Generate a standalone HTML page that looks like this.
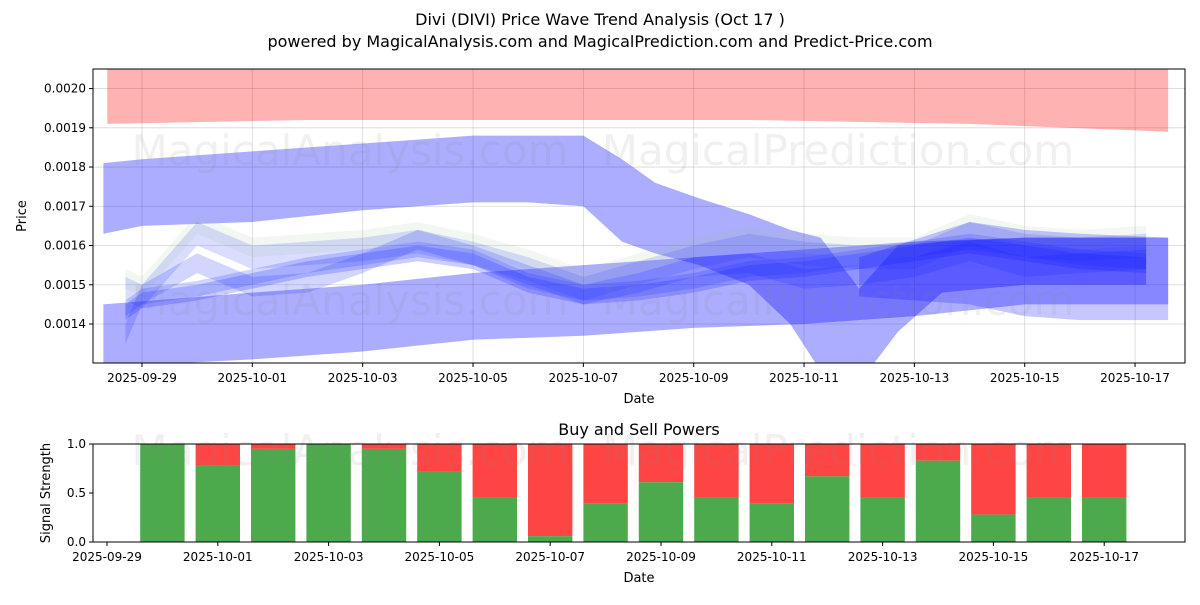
<!DOCTYPE html>
<html><head><meta charset="utf-8"><style>
body{margin:0;background:#fff;font-family:"Liberation Sans","DejaVu Sans",sans-serif}
svg text{font-family:"DejaVu Sans","Liberation Sans",sans-serif}
</style></head><body>
<svg id="c" width="1200" height="600" xmlns="http://www.w3.org/2000/svg">
<text x="600" y="25" text-anchor="middle" font-size="16">Divi (DIVI) Price Wave Trend Analysis (Oct 17 )</text>
<text x="600" y="47" text-anchor="middle" font-size="16">powered by MagicalAnalysis.com and MagicalPrediction.com and Predict-Price.com</text>
<defs><clipPath id="cp1"><rect x="93" y="69" width="1092" height="294"/></clipPath></defs>
<g id="topPanel"></g>
<g id="botPanel"></g>
</svg>
<script>
const ns="http://www.w3.org/2000/svg";
const tickDates=["2025-09-29","2025-10-01","2025-10-03","2025-10-05","2025-10-07","2025-10-09","2025-10-11","2025-10-13","2025-10-15","2025-10-17"];
const tickDays=[0,2,4,6,8,10,12,14,16,18];
const yTicks=[0.0014,0.0015,0.0016,0.0017,0.0018,0.0019,0.0020];
const redDays=[-0.63,3,7,11,15,18.6];
const redLo=[0.00191,0.00192,0.00192,0.00192,0.00191,0.00189];
const redHi=[0.00207,0.00207,0.00207,0.00207,0.00207,0.00207];
const bigDays=[-0.7,0,2,4,6,7,8,8.7,9.3,10.1,11,11.75,12.3,13,13.7,14.5,16,18.2];
const bigHi=[0.00181,0.00182,0.00184,0.00186,0.00188,0.00188,0.00188,0.00182,0.00176,0.00172,0.00168,0.00164,0.00162,0.00149,0.00160,0.00161,0.00162,0.00162];
const bigLo=[0.00163,0.00165,0.00166,0.00169,0.00171,0.00171,0.00170,0.00161,0.00158,0.00155,0.00150,0.00140,0.00128,0.00125,0.00138,0.00148,0.00150,0.00150];
const lowDays=[-0.7,2,4,6,8,10,12,14,16,18.6];
const lowHi=[0.00145,0.00148,0.00150,0.00153,0.00155,0.00157,0.00159,0.00161,0.00162,0.00162];
const lowLo=[0.00129,0.00131,0.00133,0.00136,0.00137,0.00139,0.00140,0.00142,0.00145,0.00145];
const midDays=[-0.3,0,1,2,3,4,5,6,7,8,9,10,11,12,13,14,15,16,17,18.2];
const midAHi=[0.00152,0.00150,0.00166,0.00160,0.00161,0.00162,0.00164,0.00161,0.00157,0.00152,0.00156,0.00160,0.00163,0.00161,0.00160,0.00160,0.00166,0.00163,0.00162,0.00163];
const midBHi=[0.00140,0.00150,0.00158,0.00152,0.00153,0.00158,0.00164,0.00160,0.00155,0.00150,0.00153,0.00157,0.00158,0.00154,0.00155,0.00157,0.00161,0.00157,0.00158,0.00159];
const midCHi=[0.00145,0.00148,0.00150,0.00153,0.00156,0.00158,0.00160,0.00158,0.00152,0.00149,0.00150,0.00152,0.00155,0.00156,0.00158,0.00160,0.00162,0.00160,0.00158,0.00157];
const rightDays=[13,15,16,17,18.6];
const rightHi=[0.00157,0.00166,0.00164,0.00163,0.00162];
const rightLo=[0.00147,0.00145,0.00142,0.00141,0.00141];
const barDays=[1,2,3,4,5,6,7,8,9,10,11,12,13,14,15,16,17,18];
const buyVals=[1.0,0.78,0.95,1.0,0.95,0.72,0.45,0.06,0.39,0.61,0.45,0.39,0.67,0.45,0.83,0.28,0.45,0.45];

const xT=d=>142+d*55.17;
const yT=v=>324-(v-0.0014)*392400;
const xB=d=>107+d*55.4;
const yB=v=>542-v*98;
function el(p,t,a){const e=document.createElementNS(ns,t);for(const k in a)e.setAttribute(k,a[k]);p.appendChild(e);return e;}
const topG=document.getElementById('topPanel'),botG=document.getElementById('botPanel');
const g1=el(topG,'g',{});
tickDays.forEach(d=>el(g1,'line',{x1:xT(d),x2:xT(d),y1:69,y2:363,stroke:'#b0b0b0','stroke-width':0.8,opacity:0.5}));
yTicks.forEach(v=>el(g1,'line',{x1:93,x2:1185,y1:yT(v),y2:yT(v),stroke:'#b0b0b0','stroke-width':0.8,opacity:0.5}));
const bands=el(topG,'g',{'clip-path':'url(#cp1)'});
function band(days,hi,lo,fill,op,name){
 let pts=days.map((d,i)=>xT(d)+','+yT(hi[i]));
 for(let i=days.length-1;i>=0;i--)pts.push(xT(days[i])+','+yT(lo[i]));
 const p=el(bands,'polygon',{points:pts.join(' '),fill:fill,opacity:op});
 
 
}
band(redDays,redHi,redLo,'#ff0000',0.3,'red-band');
band(bigDays,bigHi,bigLo,'#0000ff',0.32,'upper-wave-band');
band(lowDays,lowHi,lowLo,'#0000ff',0.32,'lower-wave-band');
band(midDays,midAHi,midAHi.map(v=>v-0.00006),'#3040ff',0.18,'mid-band-a');
band(midDays,midAHi.map(v=>v+0.00002),midAHi.map(v=>v-0.00003),'#90c090',0.12,'mid-band-green');
band(midDays,midBHi,midBHi.map(v=>v-0.00005),'#2030ff',0.2,'mid-band-b');
band(midDays,midCHi,midCHi.map(v=>v-0.00004),'#1020ff',0.22,'mid-band-c');
band(midDays,midCHi.map(v=>v+0.00001),midCHi.map(v=>v-0.00003),'#2030ff',0.2,'mid-band-d');
band(rightDays,rightHi,rightLo,'#0000ff',0.22,'right-band');
[[350,150,'MagicalAnalysis.com'],[838,150,'MagicalPrediction.com'],[350,300,'MagicalAnalysis.com'],[838,300,'MagicalPrediction.com']].forEach(w=>{const t=el(topG,'text',{x:w[0],y:w[1]+15,'text-anchor':'middle','font-size':42,fill:'#888',opacity:0.12});t.textContent=w[2];});
el(topG,'rect',{x:93,y:69,width:1092,height:294,fill:'none',stroke:'#000','stroke-width':1});
tickDays.forEach((d,i)=>{el(topG,'line',{x1:xT(d),x2:xT(d),y1:363,y2:367,stroke:'#000'});const t=el(topG,'text',{x:xT(d),y:382,'text-anchor':'middle','font-size':12});t.textContent=tickDates[i];});
yTicks.forEach(v=>{el(topG,'line',{x1:89,x2:93,y1:yT(v),y2:yT(v),stroke:'#000'});const t=el(topG,'text',{x:86,y:yT(v)+4,'text-anchor':'end','font-size':12});t.textContent=v.toFixed(4);});
let t=el(topG,'text',{x:639,y:403,'text-anchor':'middle','font-size':13});t.textContent='Date';


t=el(topG,'text',{x:26,y:216,'text-anchor':'middle','font-size':13,transform:'rotate(-90 26 216)'});t.textContent='Price';


t=el(botG,'text',{x:639,y:435,'text-anchor':'middle','font-size':16});t.textContent='Buy and Sell Powers';
barDays.forEach((d,i)=>{
 const x=xB(d)-22.2,w=44.4;
 const s=el(botG,'rect',{x:x,y:yB(1),width:w,height:yB(buyVals[i])-yB(1),fill:'#ff4444'});
 
 
 const b=el(botG,'rect',{x:x,y:yB(buyVals[i]),width:w,height:542-yB(buyVals[i]),fill:'#4caa4c'});
 
 
});
[[350,450,'MagicalAnalysis.com'],[838,450,'MagicalPrediction.com']].forEach(w=>{const q=el(botG,'text',{x:w[0],y:w[1]+15,'text-anchor':'middle','font-size':42,fill:'#888',opacity:0.12});q.textContent=w[2];});
el(botG,'rect',{x:93,y:444,width:1092,height:98,fill:'none',stroke:'#000','stroke-width':1});
tickDays.forEach((d,i)=>{el(botG,'line',{x1:xB(d),x2:xB(d),y1:542,y2:546,stroke:'#000'});const q=el(botG,'text',{x:xB(d),y:561,'text-anchor':'middle','font-size':12});q.textContent=tickDates[i];});
[0,0.5,1].forEach(v=>{el(botG,'line',{x1:89,x2:93,y1:yB(v),y2:yB(v),stroke:'#000'});const q=el(botG,'text',{x:86,y:yB(v)+4,'text-anchor':'end','font-size':12});q.textContent=v.toFixed(1);});
t=el(botG,'text',{x:639,y:582,'text-anchor':'middle','font-size':13});t.textContent='Date';
t=el(botG,'text',{x:50,y:493,'text-anchor':'middle','font-size':13,transform:'rotate(-90 50 493)'});t.textContent='Signal Strength';
</script>
</body></html>
